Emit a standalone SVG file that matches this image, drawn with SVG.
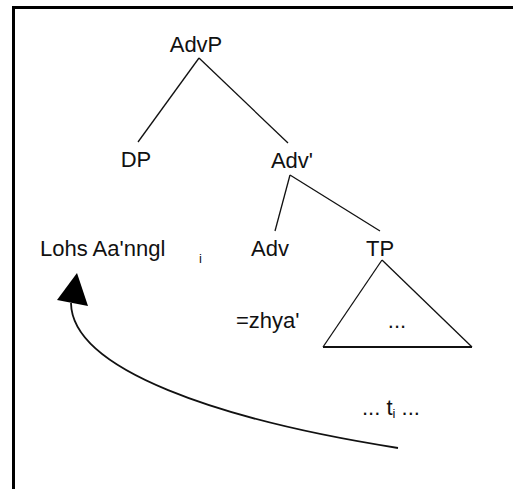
<svg xmlns="http://www.w3.org/2000/svg" width="513" height="489" viewBox="0 0 513 489">
<style>
.lbl{font-family:"Liberation Sans",Arial,sans-serif;font-size:22px;fill:#111;}
.sub{font-family:"Liberation Sans",Arial,sans-serif;font-size:13px;fill:#111;}
.edge{stroke:#111;stroke-width:1.3;fill:none;}
</style>
<rect width="513" height="489" fill="#fff"/>
<path d="M13.5,489 V7.5 H513" fill="none" stroke="#000" stroke-width="3"/>
<g id="AdvP"><text class="lbl" x="196" y="52" text-anchor="middle">AdvP</text></g>
<g id="DP"><text class="lbl" x="136" y="167" text-anchor="middle">DP</text></g>
<g id="AdvBar"><text class="lbl" x="292" y="168" text-anchor="middle">Adv'</text></g>
<g id="Lohs"><text class="lbl" x="40" y="256">Lohs Aa'nngl</text><text class="sub" x="199" y="263">i</text></g>
<g id="Adv"><text class="lbl" x="270" y="256" text-anchor="middle">Adv</text></g>
<g id="TP"><text class="lbl" x="380" y="256" text-anchor="middle">TP</text></g>
<g id="zhya"><text class="lbl" x="236" y="328">=zhya'</text></g>
<g id="TPtri">
<path d="M382,260 L323,347" class="edge"/>
<path d="M382,260 L472,347" class="edge"/>
<path d="M323,347 H472" stroke="#111" stroke-width="2.2"/>
<text class="lbl" x="397" y="328" text-anchor="middle">...</text>
</g>
<g id="trace"><text class="lbl" x="362" y="415">... t<tspan class="sub" dy="3">i</tspan><tspan dy="-3"> ...</tspan></text></g>
<g id="connectors">
<path d="M199,58 L138,142" class="edge"/>
<path d="M199,58 L288,143" class="edge"/>
<path d="M290,175 L275,231" class="edge"/>
<path d="M290,175 L380,231" class="edge"/>
<path d="M398,448 C220,420 72,370 71,303" stroke="#111" stroke-width="1.8" fill="none"/>
<polygon points="77,273 57,300 88,306" fill="#000"/>
</g>
</svg>
